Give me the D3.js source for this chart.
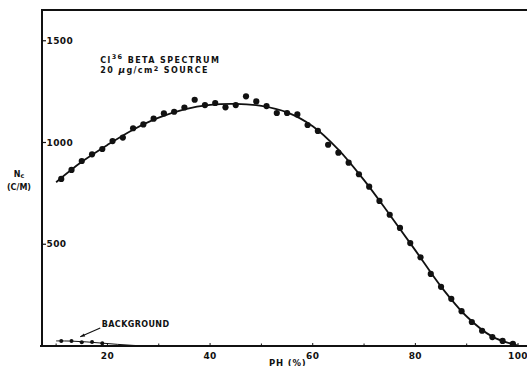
<!DOCTYPE html>
<html>
<head>
<meta charset="utf-8">
<script src="https://cdn.jsdelivr.net/npm/d3@7"></script>
<style>
  html, body { margin: 0; padding: 0; background: #fff; }
  svg { display: block; }
  text { font-family: "DejaVu Sans", sans-serif; font-weight: bold; fill: #111; }
</style>
</head>
<body>
<svg id="chart" width="527" height="366"></svg>
<script>
// ---- data ----
const phValues = [11,13,15,17,19,21,23,25,27,29,31,33,35,37,39,41,43,45,47,49,51,53,55,57,59,61,63,65,67,69,71,73,75,77,79,81,83,85,87,89,91,93,95,97,99];
const countValues = [821,865,909,942,968,1007,1024,1070,1089,1117,1143,1151,1172,1210,1184,1194,1173,1184,1227,1202,1179,1145,1145,1138,1086,1057,989,950,901,844,783,713,645,580,506,436,354,291,232,171,118,75,44,25,10];

const fitPH =     [10, 15, 20, 25, 30, 35, 40, 45, 50, 55, 60, 65, 70, 75, 80, 85, 90, 95, 100];
const fitValues = [805,905,988,1063,1122,1163,1185,1190,1180,1148,1080,965,815,645,470,292,145,46,2];

const bgPH =     [11, 13, 15, 17, 19];
const bgValues = [25, 25, 18, 20, 13];
const bgFitPH =     [10, 13, 16, 19, 22, 25, 28];
const bgFitValues = [25, 24, 20, 14, 8, 3, 0];

const xTickValues = [20, 40, 60, 80, 100];
const xMinorTicks = [10, 30, 50, 70, 90];
const yTickValues = [500, 1000, 1500];

// ---- layout ----
const svg = d3.select("#chart");
const mLeft = 42, mRight = 527, mTop = 10, mBottom = 346;
const x = d3.scaleLinear().domain([7.25, 101.75]).range([mLeft, mRight]);
const y = d3.scaleLinear().domain([0, 1500]).range([mBottom, 40.75]);
const ink = "#111";

// frame: left axis, top line, bottom axis
svg.append("line").attr("x1", mLeft).attr("x2", mLeft).attr("y1", mTop - 1).attr("y2", mBottom + 1)
  .attr("stroke", ink).attr("stroke-width", 2);
svg.append("line").attr("x1", mLeft).attr("x2", mRight).attr("y1", mTop).attr("y2", mTop)
  .attr("stroke", ink).attr("stroke-width", 2);
svg.append("line").attr("x1", mLeft - 2).attr("x2", mRight).attr("y1", mBottom).attr("y2", mBottom)
  .attr("stroke", ink).attr("stroke-width", 2);

// y ticks (inside) + labels
const yAxis = svg.append("g");
yAxis.selectAll("line").data(yTickValues).join("line")
  .attr("x1", mLeft).attr("x2", mLeft + 4)
  .attr("y1", d => y(d)).attr("y2", d => y(d))
  .attr("stroke", ink).attr("stroke-width", 1.2);
yAxis.selectAll("text").data(yTickValues).join("text")
  .attr("x", mLeft + 4.5).attr("y", d => y(d) + 3.2)
  .attr("font-size", 9)
  .attr("letter-spacing", 0.4)
  .text(d => d);

// x ticks + labels
const xAxis = svg.append("g");
xAxis.selectAll("line.major").data(xTickValues).join("line").attr("class", "major")
  .attr("x1", d => x(d)).attr("x2", d => x(d))
  .attr("y1", mBottom).attr("y2", mBottom - 3)
  .attr("stroke", ink).attr("stroke-width", 1);
xAxis.selectAll("line.minor").data(xMinorTicks).join("line").attr("class", "minor")
  .attr("x1", d => x(d)).attr("x2", d => x(d))
  .attr("y1", mBottom).attr("y2", mBottom - 2.5)
  .attr("stroke", ink).attr("stroke-width", 1);
xAxis.selectAll("text").data(xTickValues).join("text")
  .attr("x", d => x(d)).attr("y", mBottom + 12.5)
  .attr("text-anchor", "middle")
  .attr("font-size", 9)
  .attr("letter-spacing", 0.4)
  .text(d => d);

// axis titles
svg.append("text").attr("x", x(51.5)).attr("y", 366)
  .attr("font-size", 8.5).attr("letter-spacing", 0.8)
  .text("PH (%)");
const yl = svg.append("text").attr("x", 19).attr("y", 176.5).attr("text-anchor", "middle")
  .attr("font-size", 8);
yl.append("tspan").text("N");
yl.append("tspan").attr("dy", 1.5).attr("font-size", 6.5).text("c");
svg.append("text").attr("x", 19).attr("y", 190).attr("text-anchor", "middle")
  .attr("font-size", 8).text("(C/M)");

// fitted curve
const line = d3.line().x(d => x(d[0])).y(d => y(d[1])).curve(d3.curveCatmullRom.alpha(0.5));
svg.append("path").datum(d3.zip(fitPH, fitValues))
  .attr("d", line).attr("fill", "none").attr("stroke", ink).attr("stroke-width", 1.8);

// data points
svg.append("g").selectAll("circle").data(d3.zip(phValues, countValues)).join("circle")
  .attr("cx", d => x(d[0])).attr("cy", d => y(d[1])).attr("r", 3.1).attr("fill", ink);

// background
svg.append("path").datum(d3.zip(bgFitPH, bgFitValues))
  .attr("d", line).attr("fill", "none").attr("stroke", ink).attr("stroke-width", 1);
svg.append("g").selectAll("circle").data(d3.zip(bgPH, bgValues)).join("circle")
  .attr("cx", d => x(d[0])).attr("cy", d => y(d[1])).attr("r", 2).attr("fill", ink);

// background annotation
svg.append("text").attr("x", x(18.9)).attr("y", y(95))
  .attr("font-size", 8).attr("letter-spacing", 0.4).text("BACKGROUND");
const ax1 = x(18.6), ay1 = y(88), ax2 = x(14.7), ay2 = y(45);
svg.append("line").attr("x1", ax1).attr("y1", ay1).attr("x2", ax2).attr("y2", ay2)
  .attr("stroke", ink).attr("stroke-width", 1.1);
const ang = Math.atan2(ay2 - ay1, ax2 - ax1);
const hl = 5, hw = 0.35;
svg.append("path")
  .attr("d", `M${ax2},${ay2} L${ax2 - hl*Math.cos(ang - hw)},${ay2 - hl*Math.sin(ang - hw)} L${ax2 - hl*Math.cos(ang + hw)},${ay2 - hl*Math.sin(ang + hw)} Z`)
  .attr("fill", ink);

// title
const t1 = svg.append("text").attr("x", x(18.6)).attr("y", 62.5).attr("font-size", 8).attr("letter-spacing", 1.4);
t1.append("tspan").text("Cl");
t1.append("tspan").attr("dy", -3.5).attr("font-size", 6.5).text("36");
t1.append("tspan").attr("dy", 3.5).text(" BETA  SPECTRUM");
const t2 = svg.append("text").attr("x", x(18.6)).attr("y", 72.5).attr("font-size", 8).attr("letter-spacing", 1.4);
t2.append("tspan").text("20 ");
t2.append("tspan").attr("font-style", "italic").attr("font-size", 9).text("μ");
t2.append("tspan").text("g/cm");
t2.append("tspan").attr("dy", -2).attr("font-size", 6.5).text("2");
t2.append("tspan").attr("dy", 2).text(" SOURCE");
</script>
</body>
</html>
